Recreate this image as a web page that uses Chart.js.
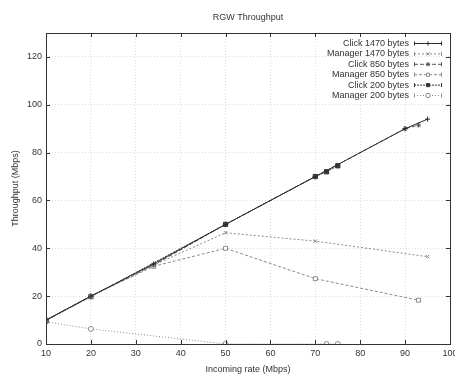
<!DOCTYPE html>
<html><head><meta charset="utf-8">
<script src="https://cdn.jsdelivr.net/npm/chart.js@4/dist/chart.umd.min.js"></script>
<style>html,body{margin:0;padding:0;background:#fff}</style>
</head><body>
<canvas id="c" width="455" height="376"></canvas>
<script>
const chartTitle = 'RGW Throughput';
const xAxisTitle = 'Incoming rate (Mbps)';
const yAxisTitle = 'Throughput (Mbps)';
const seriesLabels = ['Click 1470 bytes','Manager 1470 bytes','Click 850 bytes','Manager 850 bytes','Click 200 bytes','Manager 200 bytes'];

const click1470X = [10, 20, 34, 50, 70, 90, 95];
const click1470Y = [10, 20, 33.5, 50, 70, 90, 94];
const manager1470X = [10, 20, 34, 50, 70, 95];
const manager1470Y = [10, 20, 33, 46.5, 43, 36.5];
const click850X = [10, 20, 34, 50, 70, 90, 93];
const click850Y = [10, 20, 33, 50, 70, 90, 91.5];
const manager850X = [10, 20, 34, 50, 70, 93];
const manager850Y = [10, 20, 32.5, 40, 27.3, 18.3];
const click200X = [10, 20, 50, 70, 72.5, 75];
const click200Y = [9.8, 19.8, 50, 70, 72, 74.5];
const manager200X = [10, 20, 50, 72.5, 75];
const manager200Y = [9.3, 6.3, 0, 0, 0];

const xTicks = [10,20,30,40,50,60,70,80,90,100];
const yTicks = [0,20,40,60,80,100,120];

const pairs = (xs, ys) => xs.map((x, i) => ({x, y: ys[i]}));
const FONT = 'Liberation Sans, Arial, Helvetica, sans-serif';

const styles = [
  {color:'#2a2a2a', dash:[], pt:'cross', r:2.5, fill:false},
  {color:'#8a8a8a', dash:[2,2], pt:'crossRot', r:2.5, fill:false},
  {color:'#555555', dash:[4,2], pt:'star', r:2.5, fill:false},
  {color:'#8a8a8a', dash:[3,2], pt:'rect', r:2.8, fill:false},
  {color:'#333333', dash:[2,1], pt:'rect', r:3, fill:true},
  {color:'#8a8a8a', dash:[1,2], pt:'circle', r:2.5, fill:false}
];
const dataArrays = [
  pairs(click1470X, click1470Y), pairs(manager1470X, manager1470Y),
  pairs(click850X, click850Y), pairs(manager850X, manager850Y),
  pairs(click200X, click200Y), pairs(manager200X, manager200Y)
];

const datasets = dataArrays.map((d, i) => ({
  label: seriesLabels[i],
  data: d,
  showLine: true,
  borderColor: styles[i].color,
  borderWidth: 1,
  borderDash: styles[i].dash,
  pointStyle: styles[i].pt,
  pointRadius: styles[i].r,
  pointBorderColor: styles[i].color,
  pointBackgroundColor: styles[i].fill ? styles[i].color : '#ffffff',
  pointBorderWidth: 1,
  fill: false,
  tension: 0
}));

const framePlugin = {
  id: 'frame',
  afterDraw(chart) {
    const {ctx, chartArea: a, scales: {x, y}} = chart;
    ctx.save();
    ctx.strokeStyle = '#333';
    ctx.lineWidth = 1;
    ctx.setLineDash([]);
    ctx.strokeRect(Math.round(a.left) + 0.5, Math.round(a.top) + 0.5, Math.round(a.right - a.left), Math.round(a.bottom - a.top));
    ctx.beginPath();
    xTicks.forEach(v => {
      const px = Math.round(x.getPixelForValue(v)) + 0.5;
      ctx.moveTo(px, a.bottom); ctx.lineTo(px, a.bottom - 4);
      ctx.moveTo(px, a.top); ctx.lineTo(px, a.top + 4);
    });
    yTicks.forEach(v => {
      const py = Math.round(y.getPixelForValue(v)) + 0.5;
      ctx.moveTo(a.left, py); ctx.lineTo(a.left + 4, py);
      ctx.moveTo(a.right, py); ctx.lineTo(a.right - 4, py);
    });
    ctx.stroke();
    ctx.fillStyle = '#333';
    ctx.font = '9px ' + FONT;
    ctx.textAlign = 'center';
    ctx.textBaseline = 'middle';
    ctx.fillText(chartTitle, (a.left + a.right) / 2, 18);
    const textRight = 409, x0 = 414, x1 = 442, xm = 428;
    chart.data.datasets.forEach((ds, i) => {
      const yy = 43.5 + i * 10.4;
      ctx.fillStyle = '#333';
      ctx.textAlign = 'right';
      ctx.fillText(ds.label, textRight, yy);
      ctx.strokeStyle = ds.borderColor;
      ctx.setLineDash(ds.borderDash);
      ctx.beginPath();
      ctx.moveTo(x0, yy); ctx.lineTo(x1, yy);
      ctx.stroke();
      ctx.setLineDash([]);
      ctx.beginPath();
      ctx.moveTo(x0 + 0.5, yy - 2); ctx.lineTo(x0 + 0.5, yy + 2);
      ctx.moveTo(x1 - 0.5, yy - 2); ctx.lineTo(x1 - 0.5, yy + 2);
      ctx.stroke();
      ctx.fillStyle = ds.pointBackgroundColor;
      Chart.helpers.drawPoint(ctx, {pointStyle: ds.pointStyle, radius: 2.2, rotation: 0, borderWidth: 1}, xm, yy);
    });
    ctx.restore();
  }
};

new Chart(document.getElementById('c'), {
  type: 'scatter',
  data: {datasets},
  options: {
    responsive: false,
    animation: false,
    devicePixelRatio: 1,
    layout: {padding: {top: 33, right: 5, bottom: 0, left: 0}},
    plugins: {legend: {display: false}, title: {display: false}, tooltip: {enabled: false}},
    scales: {
      x: {
        type: 'linear', min: 10, max: 100,
        ticks: {stepSize: 10, color: '#333', font: {family: FONT, size: 9}, padding: 4, maxRotation: 0, autoSkip: false},
        grid: {color: '#dcdcdc', drawTicks: false},
        border: {display: false, dash: [1, 2]},
        title: {display: true, text: xAxisTitle, color: '#333', font: {family: FONT, size: 9}, padding: {top: 0, bottom: 1}},
        afterFit(s) { s.height = 32; s.paddingLeft = 0; s.paddingRight = 0; }
      },
      y: {
        min: 0, max: 130,
        ticks: {stepSize: 20, color: '#333', font: {family: FONT, size: 9}, padding: 4,
          callback: v => (v % 20 === 0 ? v : '')},
        grid: {color: ctx => (ctx.tick && ctx.tick.value % 20 === 0 ? '#dcdcdc' : 'rgba(0,0,0,0)'), drawTicks: false},
        border: {display: false, dash: [1, 2]},
        title: {display: true, text: yAxisTitle, color: '#333', font: {family: FONT, size: 9}, padding: {top: 10, bottom: 0}},
        afterFit(s) { s.width = 46; s.paddingTop = 0; s.paddingBottom = 0; }
      }
    }
  },
  plugins: [framePlugin]
});
</script>
</body></html>
